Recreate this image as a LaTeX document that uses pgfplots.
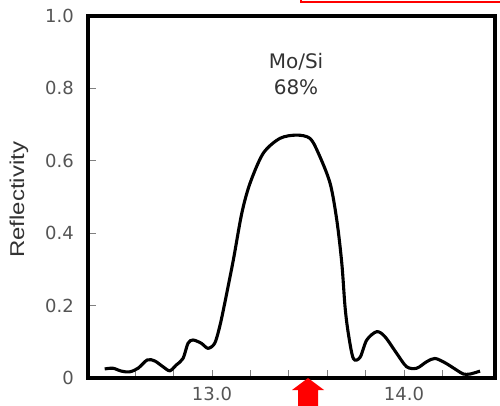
\documentclass[border=0pt]{standalone}
\usepackage{fontspec}
\setmainfont{DejaVu Sans}
\newfontfamily\labelfont[FakeStretch=1.2]{Liberation Sans}
\usepackage{pgfplots}
\pgfplotsset{compat=1.18}
\definecolor{ticktext}{HTML}{555555}
\definecolor{titletext}{HTML}{333333}

\begin{document}
\begin{tikzpicture}
% page = 500 x 405 px, 1px = 1pt, axis box lower left at (0,0)
\useasboundingbox (-88pt,-27pt) rectangle (412pt,378pt);
\begin{axis}[
    scale only axis,
    width=407pt, height=362pt,
    xmin=12.354, xmax=14.474,
    ymin=0, ymax=1,
    clip=false,
    separate axis lines,
    axis line style={line width=3.4pt, line cap=rect},
    tick align=inside,
    xtick pos=lower, ytick pos=left,
    xtick={12.6,12.8,13.0,13.2,13.4,13.6,13.8,14.0,14.2},
    xticklabels={,,13.0,,,,,14.0,},
    ytick={0,0.2,0.4,0.6,0.8,1.0},
    yticklabels={0,0.2,0.4,0.6,0.8,1.0},
    major tick length=8pt,
    tick style={gray, line width=0.8pt},
    tick label style={font=\fontsize{18pt}{21pt}\selectfont, text=ticktext, inner sep=0pt},
    xticklabel style={anchor=north, yshift=-9pt},
    yticklabel style={anchor=east, xshift=-14pt},
    ylabel={\labelfont Reflectivity},
    ylabel style={at={(axis description cs:-0.1695,0.492)}, anchor=center,
        font=\fontsize{20pt}{24pt}\selectfont, text=titletext},
]
\addplot[black, line width=3.1pt, smooth] coordinates {
    (12.441,0.025) (12.484,0.027) (12.528,0.019) (12.571,0.017)
    (12.615,0.027) (12.663,0.050) (12.702,0.047) (12.745,0.031)
    (12.780,0.020) (12.814,0.036) (12.849,0.054) (12.875,0.096)
    (12.901,0.105) (12.944,0.096) (12.979,0.082) (13.014,0.096)
    (13.040,0.142) (13.066,0.206) (13.111,0.326) (13.155,0.455)
    (13.198,0.538) (13.267,0.621) (13.354,0.662) (13.441,0.671)
    (13.510,0.662) (13.554,0.621) (13.615,0.538) (13.650,0.436)
    (13.676,0.317) (13.693,0.196) (13.710,0.123) (13.736,0.054)
    (13.771,0.057) (13.806,0.105) (13.858,0.128) (13.901,0.114)
    (13.962,0.068) (14.014,0.031) (14.066,0.027) (14.118,0.045)
    (14.161,0.054) (14.214,0.042) (14.274,0.022) (14.309,0.011)
    (14.344,0.011) (14.396,0.019)
};
\node[text=titletext, font=\fontsize{20pt}{24pt}\selectfont] at (axis cs:13.4375,0.873) {Mo/Si};
\node[text=titletext, font=\fontsize{20pt}{24pt}\selectfont] at (axis cs:13.4375,0.804) {68\%};
% red arrow under the axis
\fill[red] (axis cs:13.5,0) -- ++(16pt,-12pt) -- ++(-6pt,0pt) -- ++(0pt,-20pt)
    -- ++(-20pt,0pt) -- ++(0pt,20pt) -- ++(-6pt,0pt) -- cycle;
\end{axis}
% red frame cut by the top edge
\draw[red, line width=1.5pt] (213pt,390pt) -- (213pt,376pt) -- (420pt,376pt);
\end{tikzpicture}
\end{document}
